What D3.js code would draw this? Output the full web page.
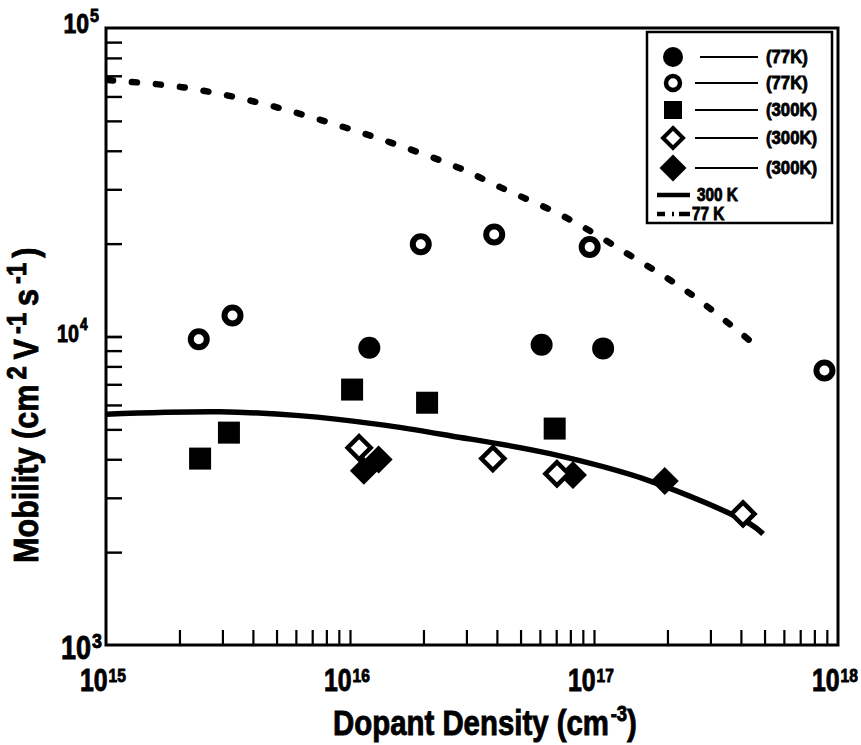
<!DOCTYPE html>
<html><head><meta charset="utf-8">
<script src="https://cdn.jsdelivr.net/npm/d3@7"></script>
<style>
html,body{margin:0;padding:0;background:#fff;}
svg{display:block;}
text{font-family:'Liberation Sans',Arial,Helvetica,sans-serif;font-weight:bold;fill:#000;stroke:#000;stroke-width:0.9px;}
</style></head>
<body>
<svg id="chart" width="861" height="745"></svg>
<script>
// ---------- data ----------
const xMajorTicks = [1e15, 1e16, 1e17, 1e18];
const xMajorExp = ["15", "16", "17", "18"];
const yMajorTicks = [1e3, 1e4, 1e5];
const yMajorExp = ["3", "4", "5"];

const filledCircle77X = [1.2e16, 6.1e16, 1.09e17];
const filledCircle77Y = [9200, 9400, 9150];

const openCircle77X = [2.4e15, 3.3e15, 1.95e16, 3.9e16, 9.6e16, 8.8e17];
const openCircle77Y = [9800, 11700, 19900, 21400, 19500, 7760];

const filledSquare300X = [2.43e15, 3.19e15, 1.02e16, 2.07e16, 6.9e16];
const filledSquare300Y = [4020, 4880, 6730, 6100, 5030];

const openDiamond300X = [1.09e16, 3.85e16, 7.05e16, 4.08e17];
const openDiamond300Y = [4360, 4020, 3590, 2660];

const filledDiamond300X = [1.14e16, 1.31e16, 8.2e16, 1.95e17];
const filledDiamond300Y = [3670, 3990, 3560, 3400];

const model300X = [1e15, 2.93e15, 6.2e15, 1.33e16, 2.57e16, 6.6e16, 1.7e17, 4.36e17, 4.93e17];
const model300Y = [5600, 5700, 5540, 5180, 4770, 4170, 3400, 2470, 2290];

const model77X = [1.02e15, 2.05e15, 4.0e15, 7.6e15, 1.46e16, 2.75e16, 4.12e16, 7.75e16, 1.41e17, 2.47e17, 4.44e17];
const model77Y = [67800, 64300, 57900, 50300, 42600, 35400, 30500, 24200, 18300, 13800, 9570];

const legendLabels = ["(77K)", "(77K)", "(300K)", "(300K)", "(300K)"];
const lineLegendLabels = ["300 K", "77 K"];

// ---------- layout ----------
const svg = d3.select("#chart");
const L = 106, R = 838, T = 28, B = 645;
const x = d3.scaleLog().domain([1e15, 1e18]).range([L, R]);
const y = d3.scaleLog().domain([1e3, 1e5]).range([B, T]);
const zip = (a, b) => a.map((v, i) => [v, b[i]]);

function txt(parent, px, py, fs, anchor, sx, str) {
  return parent.append("text")
    .attr("transform", `translate(${px},${py}) scale(${sx},1)`)
    .attr("text-anchor", anchor).attr("font-size", fs).text(str);
}

// minor ticks
const xMinor = [];
[1e15, 1e16, 1e17].forEach(d => { for (let k = 2; k <= 10; k++) xMinor.push(d * k); });
xMinor.pop();
const yMinor = [];
[1e3, 1e4].forEach(d => { for (let k = 2; k <= 10; k++) yMinor.push(d * k); });
yMinor.pop();

// bottom axis ticks (inward)
const gx = svg.append("g").attr("transform", `translate(0,${B})`)
  .call(d3.axisBottom(x).tickValues(xMinor).tickSize(-15).tickFormat(""));
gx.select(".domain").remove();
gx.selectAll(".tick line").attr("stroke", "#000").attr("stroke-width", 2.2);

// left axis ticks (inward)
const gy = svg.append("g").attr("transform", `translate(${L},0)`)
  .call(d3.axisLeft(y).tickValues(yMinor.concat([1e4])).tickSize(-16).tickFormat(""));
gy.select(".domain").remove();
gy.selectAll(".tick line").attr("stroke", "#000").attr("stroke-width", 2.4);

// frame
svg.append("rect").attr("x", L).attr("y", T).attr("width", R - L).attr("height", B - T)
  .attr("fill", "none").attr("stroke", "#000").attr("stroke-width", 3);

// x tick labels
const gxl = svg.append("g").attr("transform", `translate(0,${B})`)
  .call(d3.axisBottom(x).tickValues(xMajorTicks).tickSize(0).tickFormat(""));
gxl.select(".domain").remove();
gxl.selectAll(".tick").each(function (d, i) {
  const g = d3.select(this);
  txt(g, 1, 46, 31, "end", 0.8, "10");
  txt(g, 2, 37, 19, "start", 0.82, xMajorExp[i]);
});

// y tick labels
const yLab = [
  {xe: 91, base: 13, sup: 2, fs: 33, sfs: 21},
  {xe: 79, base: 5, sup: -7, fs: 24, sfs: 16},
  {xe: 89, base: 4, sup: -7, fs: 28, sfs: 19}
];
const gyl = svg.append("g")
  .call(d3.axisLeft(y).tickValues(yMajorTicks).tickSize(0).tickFormat(""));
gyl.select(".domain").remove();
gyl.selectAll(".tick").each(function (d, i) {
  const g = d3.select(this), p = yLab[i];
  txt(g, p.xe, p.base, p.fs, "end", 0.82, "10");
  txt(g, p.xe + 1, p.sup, p.sfs, "start", 0.85, yMajorExp[i]);
});

// axis titles
const xt = txt(svg, 333, 735, 35, "start", 0.84, null);
xt.append("tspan").text("Dopant Density (cm");
xt.append("tspan").attr("font-size", 22).attr("dy", -14).attr("dx", 2).text("-3");
xt.append("tspan").attr("dy", 14).text(")");

const yt = svg.append("text").attr("transform", "translate(38,563) rotate(-90) scale(0.85,1)")
  .attr("font-size", 36);
yt.append("tspan").text("Mobility (cm");
yt.append("tspan").attr("font-size", 28).attr("dy", -12).attr("dx", 6).text("2");
yt.append("tspan").attr("dy", 12).attr("dx", 8).text("V");
yt.append("tspan").attr("font-size", 28).attr("dy", -12).attr("dx", 6).text("-1");
yt.append("tspan").attr("dy", 12).attr("dx", 8).text("s");
yt.append("tspan").attr("font-size", 28).attr("dy", -12).attr("dx", 6).text("-1");
yt.append("tspan").attr("dy", 12).attr("dx", 6).text(")");

// model curves
const line = d3.line().x(d => x(d[0])).y(d => y(d[1])).curve(d3.curveCatmullRom);
svg.append("path").datum(zip(model300X, model300Y)).attr("d", line)
  .attr("fill", "none").attr("stroke", "#000").attr("stroke-width", 5.5);
svg.append("path").datum(zip(model77X, model77Y)).attr("d", line)
  .attr("fill", "none").attr("stroke", "#000").attr("stroke-width", 6.5)
  .attr("stroke-linecap", "round").attr("stroke-dasharray", "5,19");

// marker helpers
const diamond = s => `M0,${-s}L${s},0L0,${s}L${-s},0Z`;

// filled diamonds
svg.append("g").selectAll("path").data(zip(filledDiamond300X, filledDiamond300Y)).join("path")
  .attr("transform", d => `translate(${x(d[0])},${y(d[1])})`).attr("d", diamond(14)).attr("fill", "#000");
// open diamonds
svg.append("g").selectAll("path").data(zip(openDiamond300X, openDiamond300Y)).join("path")
  .attr("transform", d => `translate(${x(d[0])},${y(d[1])})`).attr("d", diamond(11.5))
  .attr("fill", "#fff").attr("stroke", "#000").attr("stroke-width", 4.5);
// filled squares
svg.append("g").selectAll("rect").data(zip(filledSquare300X, filledSquare300Y)).join("rect")
  .attr("x", d => x(d[0]) - 11).attr("y", d => y(d[1]) - 11).attr("width", 22).attr("height", 22).attr("fill", "#000");
// filled circles
svg.append("g").selectAll("circle").data(zip(filledCircle77X, filledCircle77Y)).join("circle")
  .attr("cx", d => x(d[0])).attr("cy", d => y(d[1])).attr("r", 11).attr("fill", "#000");
// open circles
svg.append("g").selectAll("circle").data(zip(openCircle77X, openCircle77Y)).join("circle")
  .attr("cx", d => x(d[0])).attr("cy", d => y(d[1])).attr("r", 8).attr("fill", "#fff")
  .attr("stroke", "#000").attr("stroke-width", 6);

// legend
const lg = svg.append("g");
lg.append("rect").attr("x", 647).attr("y", 32).attr("width", 185).attr("height", 191)
  .attr("fill", "#fff").attr("stroke", "#000").attr("stroke-width", 2.5);
const rowY = [57, 83, 110, 138, 168];
const mx = 673;
lg.append("circle").attr("cx", mx).attr("cy", rowY[0]).attr("r", 10).attr("fill", "#000");
lg.append("circle").attr("cx", mx).attr("cy", rowY[1]).attr("r", 7).attr("fill", "#fff").attr("stroke", "#000").attr("stroke-width", 4.5);
lg.append("rect").attr("x", mx - 9).attr("y", rowY[2] - 9).attr("width", 18).attr("height", 18).attr("fill", "#000");
lg.append("path").attr("transform", `translate(${mx},${rowY[3]})`).attr("d", diamond(10)).attr("fill", "#fff").attr("stroke", "#000").attr("stroke-width", 4);
lg.append("path").attr("transform", `translate(${mx},${rowY[4]})`).attr("d", diamond(13.5)).attr("fill", "#000");
rowY.forEach((ry, i) => {
  lg.append("line").attr("x1", i === 0 ? 700 : 695).attr("x2", 758).attr("y1", ry).attr("y2", ry)
    .attr("stroke", "#000").attr("stroke-width", 1.8);
  txt(lg, 766, ry + 6, 19, "start", 0.88, legendLabels[i]);
});
lg.append("line").attr("x1", 657).attr("x2", 690).attr("y1", 195).attr("y2", 195)
  .attr("stroke", "#000").attr("stroke-width", 4.5);
txt(lg, 697, 201, 18, "start", 0.85, lineLegendLabels[0]);
lg.append("line").attr("x1", 657).attr("x2", 690).attr("y1", 214).attr("y2", 214)
  .attr("stroke", "#000").attr("stroke-width", 4.5).attr("stroke-dasharray", "8,7,2,5,12");
txt(lg, 692, 220, 18, "start", 0.85, lineLegendLabels[1]);
</script>
</body></html>
